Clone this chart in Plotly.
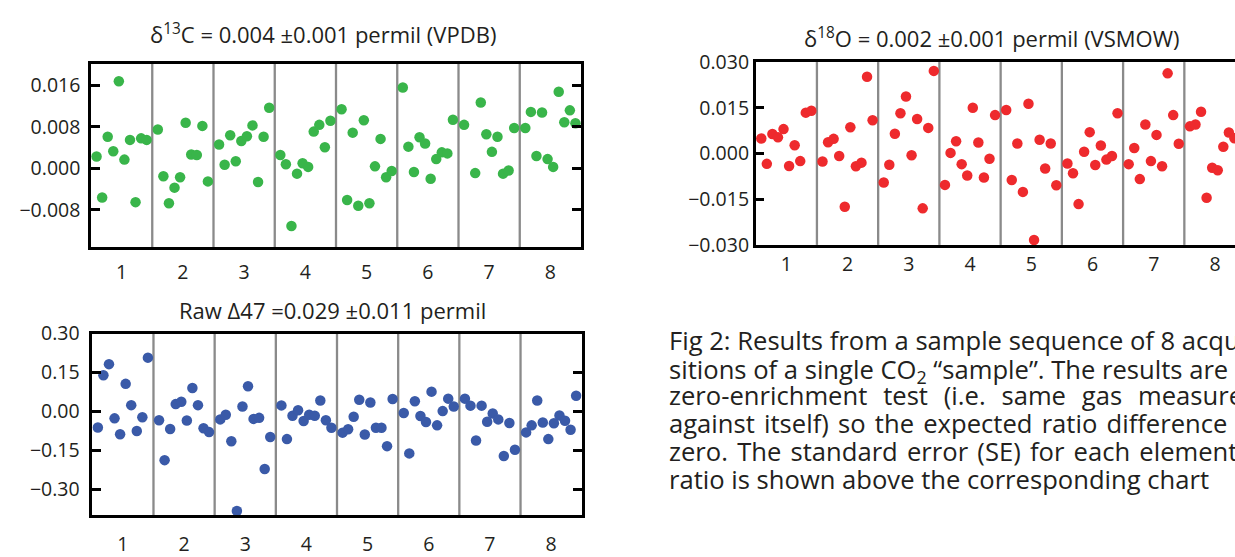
import plotly.graph_objects as go

W, H = 1235, 557

acquisitions = ["1", "2", "3", "4", "5", "6", "7", "8"]

# delta13C (permil VPDB), one list per acquisition (None = no point visible)
d13c = [
    [0.0023, -0.0056, 0.0061, 0.0033, 0.0168, 0.0017, 0.0055, -0.0065, 0.0058, 0.0055],
    [0.0075, -0.0015, -0.0067, -0.0037, -0.0017, 0.0088, 0.0027, 0.0026, 0.0082, -0.0025],
    [0.0046, 0.0007, 0.0064, 0.0014, 0.0053, 0.0062, 0.0083, -0.0026, 0.0061, 0.0117],
    [0.0026, 0.0008, -0.0111, -0.0010, 0.0010, 0.0003, 0.0071, 0.0084, 0.0041, 0.0092],
    [0.0114, -0.0061, 0.0069, -0.0072, 0.0093, -0.0067, 0.0004, 0.0057, -0.0017, -0.0005],
    [0.0156, 0.0042, -0.0007, 0.0060, 0.0048, -0.0020, 0.0018, 0.0031, 0.0029, 0.0094],
    [0.0084, None, -0.0009, 0.0127, 0.0066, 0.0032, 0.0061, -0.0010, -0.0004, 0.0078],
    [0.0078, 0.0109, 0.0024, 0.0108, 0.0018, 0.0003, 0.0148, 0.0089, 0.0112, 0.0087],
]

# delta18O (permil VSMOW)
d18o = [
    [0.0049, -0.0034, 0.0064, 0.0053, 0.0080, -0.0041, 0.0027, -0.0025, 0.0134, 0.0140],
    [-0.0026, 0.0037, 0.0048, -0.0008, -0.0175, 0.0086, -0.0042, -0.0030, 0.0252, 0.0109],
    [-0.0095, -0.0037, 0.0065, 0.0132, 0.0187, -0.0006, 0.0113, -0.0180, 0.0084, 0.0271],
    [-0.0103, 0.0002, 0.0040, -0.0035, -0.0072, 0.0150, 0.0036, -0.0079, -0.0017, 0.0126],
    [0.0143, -0.0087, 0.0033, -0.0126, 0.0163, -0.0284, 0.0045, -0.0049, 0.0033, -0.0104],
    [-0.0033, -0.0065, -0.0166, 0.0006, 0.0070, -0.0038, 0.0026, -0.0020, -0.0008, 0.0132],
    [-0.0035, 0.0018, -0.0084, 0.0095, -0.0025, 0.0061, -0.0042, 0.0263, 0.0126, 0.0032],
    [0.0089, 0.0095, 0.0137, -0.0145, -0.0047, -0.0055, 0.0022, 0.0069, 0.0050],
]

# raw Delta47 (permil)
d47 = [
    [-0.062, 0.139, 0.182, -0.027, -0.088, 0.106, 0.024, -0.076, -0.023, 0.207],
    [-0.034, -0.188, -0.068, 0.028, 0.037, -0.035, 0.090, 0.024, -0.065, -0.080],
    [-0.031, -0.013, -0.115, -0.384, 0.019, 0.097, -0.029, -0.025, -0.222, -0.099],
    [0.023, -0.107, -0.017, 0.004, -0.037, -0.013, -0.017, 0.042, -0.034, -0.063],
    [-0.082, -0.069, -0.021, 0.045, -0.089, 0.034, -0.063, -0.063, -0.134, 0.048],
    [-0.006, -0.162, 0.039, -0.018, -0.041, 0.076, -0.054, 0.001, 0.049, 0.019],
    [0.049, 0.022, -0.112, 0.022, -0.040, -0.008, -0.031, -0.172, -0.045, -0.148],
    [-0.081, -0.054, 0.042, -0.043, -0.107, -0.046, -0.016, -0.036, -0.071, 0.060],
]

d13c_ticks = [-0.008, 0.0, 0.008, 0.016]
d13c_ticktext = ["\u22120.008", "0.000", "0.008", "0.016"]
d18o_ticks = [-0.030, -0.015, 0.0, 0.015, 0.030]
d18o_ticktext = ["\u22120.030", "\u22120.015", "0.000", "0.015", "0.030"]
d47_ticks = [-0.30, -0.15, 0.0, 0.15, 0.30]
d47_ticktext = ["\u22120.30", "\u22120.15", "0.00", "0.15", "0.30"]

titles = [
    "\u03b4<sup>13</sup>C = 0.004 \u00b10.001 permil (VPDB)",
    "\u03b4<sup>18</sup>O = 0.002 \u00b10.001 permil (VSMOW)",
    "Raw \u039447 =0.029 \u00b10.011 permil",
]

caption_lines = [
    "Fig 2: Results from a sample sequence of 8 acqui-",
    "sitions of a single CO<sub>2</sub> \u201csample\u201d. The results are",
    "zero-enrichment test (i.e. same gas measured",
    "against itself) so the expected ratio difference",
    "zero. The standard error (SE) for each element",
    "ratio is shown above the corresponding chart",
]
# word spacing used to imitate the justified lines
caption_space = [" ", " ", "\u00a0\u00a0\u200a", "\u00a0\u200a", "\u00a0\u200a", " "]

SLOTS = 11  # slot width of one acquisition on the sample axis

GREEN = "#39b54a"
RED = "#ee2a2d"
BLUE = "#3a5aa8"
INK = "#231f20"
SEP = "#8a8a8a"
FONT = "Open Sans"
TICK_SIZE = 19.5
TITLE_SIZE = 22
CAPTION_SIZE = 25.6


def flatten(groups):
    xs, ys = [], []
    for g, grp in enumerate(groups):
        for k, v in enumerate(grp):
            xs.append(SLOTS * g + k + 1)
            ys.append(v)
    return xs, ys


def px_x(p):
    return p / W


def px_y(p):
    return 1 - p / H


fig = go.Figure()

panels = [
    dict(data=d13c, color=GREEN, xa="x", ya="y"),
    dict(data=d18o, color=RED, xa="x2", ya="y2"),
    dict(data=d47, color=BLUE, xa="x3", ya="y3"),
]
for p in panels:
    xs, ys = flatten(p["data"])
    fig.add_trace(go.Scatter(
        x=xs, y=ys, mode="markers", xaxis=p["xa"], yaxis=p["ya"],
        marker=dict(color=p["color"], size=10.5, line=dict(width=0)),
        showlegend=False, hoverinfo="skip",
    ))

# acquisition separators
for xa, ya in [("x", "y"), ("x2", "y2"), ("x3", "y3")]:
    for s in range(1, len(acquisitions)):
        fig.add_shape(type="line", xref=xa, yref=ya + " domain",
                      x0=SLOTS * s, x1=SLOTS * s, y0=0, y1=1,
                      line=dict(color=SEP, width=2.3), layer="below")

tickpos = [SLOTS * g + SLOTS / 2 for g in range(len(acquisitions))]

common_x = dict(showline=True, linecolor="black", linewidth=2.5, mirror=True,
                ticks="", showgrid=False, zeroline=False,
                tickvals=tickpos, ticktext=acquisitions,
                tickfont=dict(family=FONT, size=TICK_SIZE, color=INK))
common_y = dict(showline=True, linecolor="black", linewidth=2.5,
                ticks="inside", ticklen=9, tickwidth=2.5, tickcolor="black",
                showgrid=False, zeroline=False,
                tickfont=dict(family=FONT, size=TICK_SIZE, color=INK))

fig.update_layout(
    width=W, height=H, autosize=False,
    margin=dict(l=0, r=0, t=0, b=0, pad=0),
    paper_bgcolor="white", plot_bgcolor="white",
    showlegend=False,
    xaxis=dict(common_x, domain=[px_x(91), px_x(581)], range=[0, 88],
               anchor="y", ticklabelstandoff=6),
    yaxis=dict(common_y, domain=[px_y(247.5), px_y(52.7)], range=[-0.0152, 0.0202],
               anchor="x", mirror="ticks", tickvals=d13c_ticks, ticktext=d13c_ticktext,
               ticklabelstandoff=4),
    xaxis2=dict(common_x, domain=[px_x(755.7), 1.0], range=[0, 86.1],
                anchor="y2", ticklabelstandoff=0),
    yaxis2=dict(common_y, domain=[px_y(245), px_y(51)], range=[-0.030, 0.030],
                anchor="x2", mirror=False, tickvals=d18o_ticks, ticktext=d18o_ticktext,
                ticklabelstandoff=0),
    xaxis3=dict(common_x, domain=[px_x(92.3), px_x(581.7)], range=[0, 88],
                anchor="y3", ticklabelstandoff=10),
    yaxis3=dict(common_y, domain=[px_y(531.7), px_y(339)], range=[-0.40, 0.30],
                anchor="x3", mirror="ticks", tickvals=d47_ticks, ticktext=d47_ticktext,
                ticklabelstandoff=6),
)

title_pos = [(322.8, 20.5), (992, 24.5), (332, 314)]
for t, (tx, ty) in zip(titles, title_pos):
    fig.add_annotation(text=t, x=px_x(tx), y=px_y(ty), xref="paper", yref="paper",
                       xanchor="center", yanchor="middle", showarrow=False,
                       font=dict(family=FONT, size=TITLE_SIZE, color=INK))

for i, (line, sp) in enumerate(zip(caption_lines, caption_space)):
    text = line.replace(" ", sp)
    baseline = 356 + i * 29.5
    centre = baseline - 0.388 * CAPTION_SIZE
    if "<sub>" in text:
        centre += 2.7  # subscript enlarges the text box downward
    fig.add_annotation(text=text, x=px_x(667), y=px_y(centre),
                       xref="paper", yref="paper", xanchor="left", yanchor="middle",
                       showarrow=False, align="left",
                       font=dict(family=FONT, size=CAPTION_SIZE, color=INK))

fig.write_html("out.html", config={"displayModeBar": False},
               post_script="document.body.style.margin='0px';document.body.style.overflow='hidden';")
